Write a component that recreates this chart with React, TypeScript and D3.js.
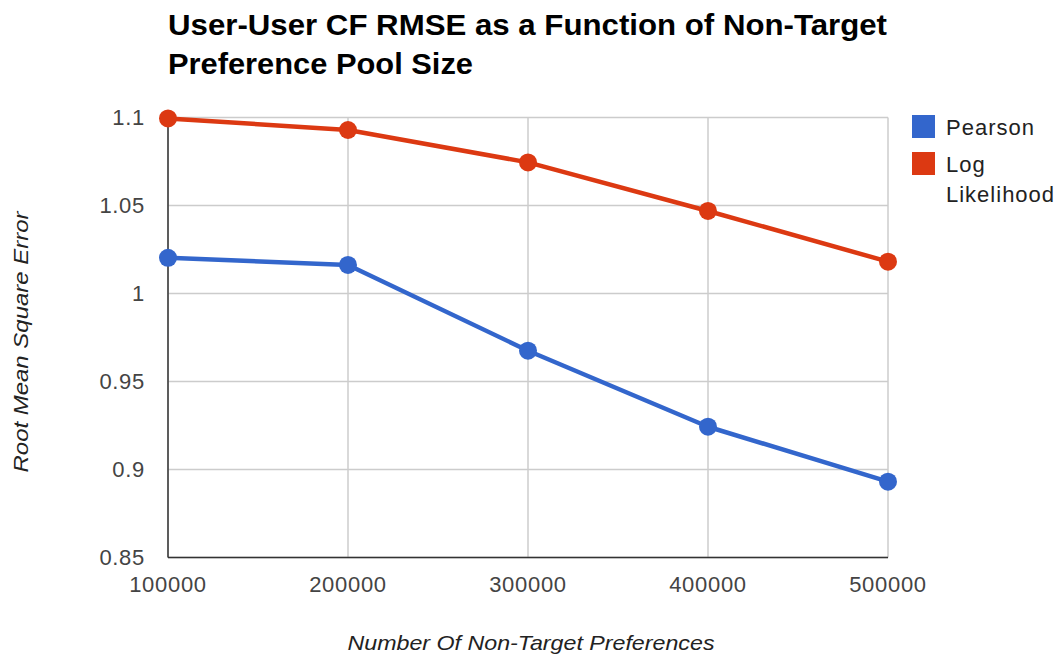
import React from "react";
import * as d3 from "d3";

const xValues = [100000, 200000, 300000, 400000, 500000];
const pearson = [1.0203, 1.0162, 0.9675, 0.9243, 0.8931];
const logLikelihood = [1.0995, 1.0929, 1.0745, 1.0469, 1.0181];
const yTicks = [0.85, 0.9, 0.95, 1, 1.05, 1.1];
const yTickLabels = ["0.85", "0.9", "0.95", "1", "1.05", "1.1"];
const seriesNames = ["Pearson", "Log Likelihood"];
const colors = ["#3366cc", "#dc3912"];
const titleLines = ["User-User CF RMSE as a Function of Non-Target", "Preference Pool Size"];
const xTitle = "Number Of Non-Target Preferences";
const yTitle = "Root Mean Square Error";

export default function App() {
  const W = 1058, H = 660;
  const left = 168, right = 888, top = 117.5, bottom = 557.5;
  const x = d3.scaleLinear().domain([100000, 500000]).range([left, right]);
  const y = d3.scaleLinear().domain([0.85, 1.1]).range([bottom, top]);
  const line = d3.line<number>().x((_, i) => x(xValues[i])).y((d) => y(d));
  const series = [pearson, logLikelihood];
  const font = "'Liberation Sans', Arial, sans-serif";

  return (
    <svg width={W} height={H} style={{ position: "absolute", left: 0, top: 0, background: "#fff" }} fontFamily={font}>
      <rect x={0} y={0} width={W} height={H} fill="#fff" />
      {/* title */}
      <text x={168} y={35} fontSize={29} fontWeight="bold" fill="#000" textLength={719} lengthAdjust="spacingAndGlyphs">{titleLines[0]}</text>
      <text x={168} y={74} fontSize={29} fontWeight="bold" fill="#000" textLength={305} lengthAdjust="spacingAndGlyphs">{titleLines[1]}</text>
      {/* gridlines */}
      {yTicks.map((t) => (
        <line key={"gy" + t} x1={left} x2={right} y1={y(t)} y2={y(t)} stroke="#cccccc" strokeWidth={1.5} />
      ))}
      {xValues.map((v) => (
        <line key={"gx" + v} x1={x(v)} x2={x(v)} y1={top} y2={bottom} stroke="#cccccc" strokeWidth={1.5} />
      ))}
      {/* axes */}
      <line x1={left} x2={left} y1={top} y2={bottom} stroke="#333" strokeWidth={1.5} />
      <line x1={left} x2={right} y1={bottom} y2={bottom} stroke="#333" strokeWidth={1.5} />
      {/* y tick labels */}
      {yTicks.map((t, i) => (
        <text key={"yl" + t} x={145} y={y(t)} dy="0.36em" textAnchor="end" fontSize={22} letterSpacing={0.7} fill="#444">{yTickLabels[i]}</text>
      ))}
      {/* x tick labels */}
      {xValues.map((v) => (
        <text key={"xl" + v} x={x(v)} y={592} textAnchor="middle" fontSize={22} letterSpacing={0.7} fill="#444">{String(v)}</text>
      ))}
      {/* series */}
      {series.map((s, si) => (
        <g key={"s" + si}>
          <path d={line(s) || ""} fill="none" stroke={colors[si]} strokeWidth={4.5} strokeLinejoin="round" />
          {s.map((d, i) => (
            <circle key={i} cx={x(xValues[i])} cy={y(d)} r={9} fill={colors[si]} />
          ))}
        </g>
      ))}
      {/* legend */}
      <rect x={912} y={115} width={23} height={23} fill={colors[0]} />
      <text x={946} y={135} fontSize={22} letterSpacing={1} fill="#222">{seriesNames[0]}</text>
      <rect x={912} y={152} width={23} height={23} fill={colors[1]} />
      <text x={946} y={172} fontSize={22} letterSpacing={1} fill="#222">Log</text>
      <text x={946} y={202} fontSize={22} letterSpacing={1} fill="#222">Likelihood</text>
      {/* axis titles */}
      <text x={(left + right) / 2 + 3} y={650} textAnchor="middle" fontSize={21} fontStyle="italic" fill="#222" textLength={367} lengthAdjust="spacingAndGlyphs">{xTitle}</text>
      <text transform={`translate(28,342) rotate(-90)`} textAnchor="middle" fontSize={21} fontStyle="italic" fill="#222" textLength={261} lengthAdjust="spacingAndGlyphs">{yTitle}</text>
    </svg>
  );
}
